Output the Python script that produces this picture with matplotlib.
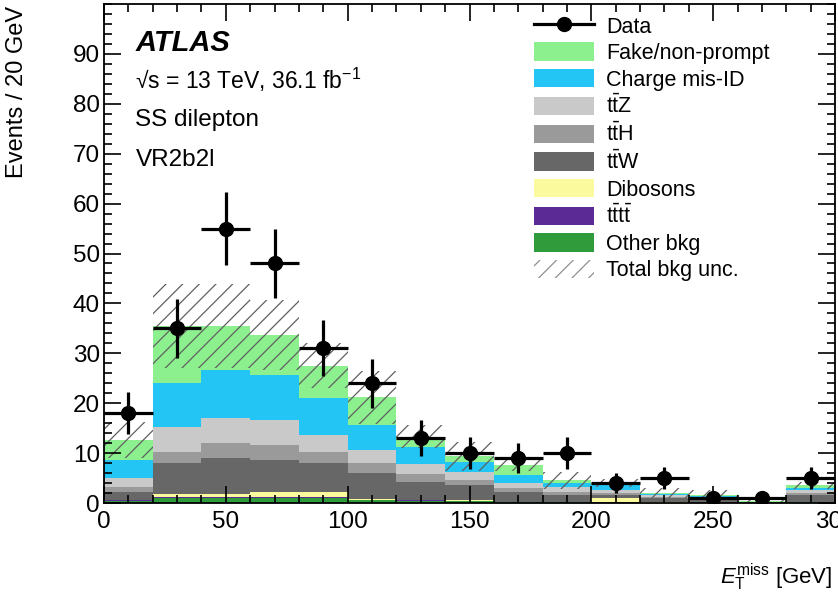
import numpy as np
import matplotlib
matplotlib.use("Agg")
import matplotlib.pyplot as plt
from matplotlib.lines import Line2D
from matplotlib.patches import Patch

plt.rcParams["font.family"] = ["Liberation Sans", "DejaVu Sans"]
plt.rcParams["mathtext.fontset"] = "custom"
plt.rcParams["mathtext.rm"] = "Liberation Sans"
plt.rcParams["mathtext.it"] = "Liberation Sans:italic"
plt.rcParams["hatch.linewidth"] = 0.9

# 20 GeV bins, 0-300 GeV
edges = np.arange(0, 320, 20)
centers = edges[:-1] + 10

data = [18, 35, 55, 48, 31, 24, 13, 10, 9, 10, 4, 5, 1, 1, 5]
data_err = [4.2, 5.9, 7.4, 6.9, 5.6, 4.9, 3.6, 3.2, 3.0, 3.2, 2.0, 2.2, 1.0, 1.0, 2.2]

other_bkg = [0.5, 1.1, 1.1, 1.1, 1.1, 0.6, 0.5, 0.4, 0.2, 0.2, 0.1, 0.1, 0.1, 0.05, 0.2]
tttt = [0.05, 0.1, 0.1, 0.1, 0.1, 0.1, 0.1, 0.1, 0.05, 0.05, 0.05, 0.0, 0.0, 0.0, 0.05]
dibosons = [0.15, 0.7, 0.7, 1.1, 1.1, 0.1, 0.1, 0.1, 0.05, 0.05, 0.85, 0.05, 0.0, 0.0, 0.05]
ttw = [1.5, 6.1, 7.1, 6.3, 5.7, 5.2, 3.5, 3.0, 1.9, 1.3, 0.7, 0.85, 0.7, 0.1, 1.3]
tth = [1.0, 2.2, 3.0, 3.0, 2.2, 2.0, 1.6, 1.0, 0.8, 0.6, 0.4, 0.3, 0.2, 0.05, 0.5]
ttz = [1.8, 5.1, 5.0, 5.1, 3.4, 2.6, 2.0, 1.7, 1.0, 1.1, 0.6, 0.3, 0.2, 0.05, 0.5]
charge_misid = [3.6, 8.8, 9.7, 9.0, 7.4, 5.1, 3.4, 2.0, 1.6, 0.7, 0.9, 0.25, 0.2, 0.05, 0.4]
fake = [4.0, 11.3, 8.7, 8.0, 6.5, 5.5, 2.1, 1.1, 2.0, 0.6, 0.4, 0.15, 0.2, 0.05, 0.6]
bkg_unc = [3.6, 8.4, 8.4, 7.0, 4.5, 5.3, 2.3, 2.9, 1.2, 1.7, 0.8, 1.0, 1.0, 0.3, 0.7]

# stacking order bottom -> top
stack = [
    (other_bkg, "#2f9b3a", "Other bkg"),
    (tttt, "#5b2a94", r"$\mathrm{t\bar{t}t\bar{t}}$"),
    (dibosons, "#fbfa9c", "Dibosons"),
    (ttw, "#676767", r"$\mathrm{t\bar{t}W}$"),
    (tth, "#9a9a9a", r"$\mathrm{t\bar{t}H}$"),
    (ttz, "#c9c9c9", r"$\mathrm{t\bar{t}Z}$"),
    (charge_misid, "#22c5f3", "Charge mis-ID"),
    (fake, "#8cf08f", "Fake/non-prompt"),
]

fig = plt.figure(figsize=(8.38, 5.92), dpi=100)
ax = fig.add_axes([104 / 838, 1 - 503 / 592, 731 / 838, 499 / 592])

bottom = np.zeros(len(centers))
for vals, col, lab in stack:
    vals = np.array(vals)
    ax.bar(edges[:-1], vals, width=20, bottom=bottom, align="edge",
           color=col, linewidth=0)
    bottom = bottom + vals
total = bottom

unc = np.array(bkg_unc)
ax.bar(edges[:-1], 2 * unc, width=20, bottom=total - unc, align="edge",
       fill=False, hatch="//", edgecolor="#606060", linewidth=0)

ax.errorbar(centers, data, xerr=10, yerr=data_err, fmt="o", color="black",
            markersize=10, elinewidth=2.3, capsize=0)

ax.set_xlim(0, 300)
ax.set_ylim(0, 100)
ax.set_xticks(np.arange(0, 301, 50))
ax.set_xticks(np.arange(0, 301, 10), minor=True)
ax.set_yticks(np.arange(0, 91, 10))
ax.set_yticks(np.arange(0, 101, 2), minor=True)
ax.tick_params(which="both", direction="in", top=True, right=True,
               labelsize=17.5, width=1.2)
ax.tick_params(which="major", length=12)
ax.tick_params(which="minor", length=6)
ax.tick_params(axis="x", pad=6)
ax.tick_params(axis="y", pad=3)
for s in ax.spines.values():
    s.set_linewidth(1.3)

ax.set_ylabel("Events / 20 GeV", fontsize=17, loc="top")
ax.yaxis.set_label_coords(-0.104, 0.997)
ax.set_xlabel(r"$E_{\mathrm{T}}^{\mathrm{miss}}$ [GeV]", fontsize=16, loc="right")
ax.xaxis.set_label_coords(0.997, -0.117)

ax.text(0.043, 0.922, "ATLAS", transform=ax.transAxes, fontsize=21,
        fontweight="bold", fontstyle="italic", va="center")
ax.text(0.043, 0.848, "√s = 13 TeV, 36.1 fb$^{-1}$",
        transform=ax.transAxes, fontsize=16.5, va="center")
ax.text(0.043, 0.7675, "SS dilepton", transform=ax.transAxes, fontsize=17.5,
        va="center")
ax.text(0.043, 0.687, "VR2b2l", transform=ax.transAxes, fontsize=17.5,
        va="center")

handles = [Line2D([], [], color="black", marker="o", markersize=10, lw=2.3)]
labels = ["Data"]
for vals, col, lab in stack[::-1]:
    handles.append(Patch(facecolor=col, linewidth=0))
    labels.append(lab)
handles.append(Patch(fill=False, hatch="//", edgecolor="#909090", linewidth=0))
labels.append("Total bkg unc.")

ax.legend(handles, labels, loc="upper left", bbox_to_anchor=(0.588, 0.976),
          frameon=False, fontsize=15.5, handlelength=2.8, handleheight=0.95,
          labelspacing=0.22, handletextpad=0.55, borderpad=0, borderaxespad=0)

fig.savefig("out.png", dpi=100)
